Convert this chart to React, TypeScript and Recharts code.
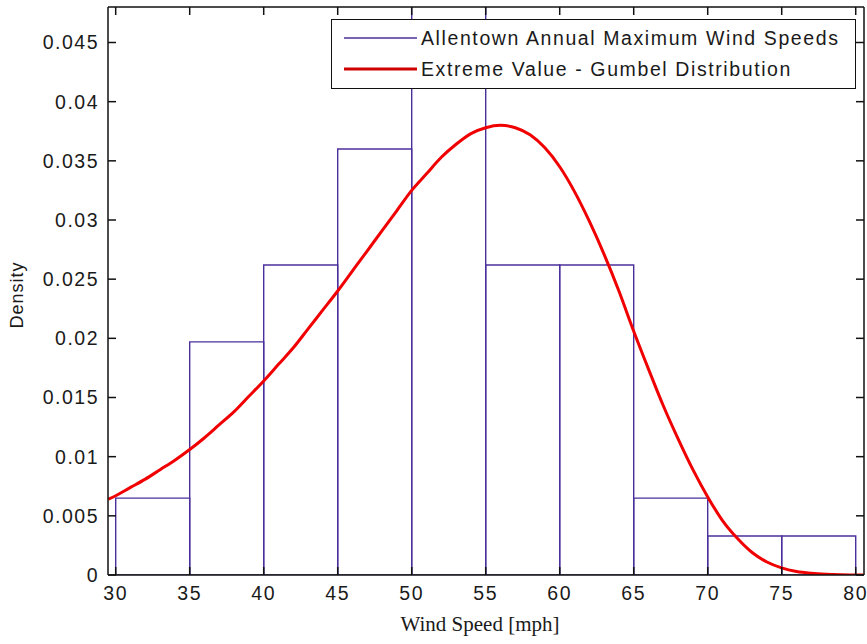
import React from 'react';
import { LineChart, Line, XAxis, YAxis, ReferenceArea, Legend } from 'recharts';

// Histogram bins (Allentown annual maximum wind speeds, density)
const binStarts = [30, 35, 40, 45, 50, 55, 60, 65, 70, 75];
const binEnds = [35, 40, 45, 50, 55, 60, 65, 70, 75, 80];
const binDensity = [0.0065, 0.0197, 0.0262, 0.0360, 0.0492, 0.0262, 0.0262, 0.0065, 0.0033, 0.0033];

// Gumbel (extreme value) fitted density
const curveX = [29.5, 30, 31, 32, 33, 34, 35, 36, 37, 38, 39, 40, 41, 42, 43, 44, 45, 46, 47, 48, 49, 50,
  51, 52, 53, 54, 55, 56, 57, 58, 59, 60, 61, 62, 63, 64, 65, 66, 67, 68, 69, 70,
  71, 72, 73, 74, 75, 76, 77, 78, 79, 80, 80.5];
const curveDensity = [0.0064, 0.0067, 0.0074, 0.0081, 0.0089, 0.0097, 0.0106, 0.0116, 0.0127, 0.0138, 0.0151, 0.0164,
  0.0178, 0.0192, 0.0208, 0.0224, 0.0240, 0.0257, 0.0274, 0.0291, 0.0308, 0.0325,
  0.0339, 0.0353, 0.0364, 0.0373, 0.0378, 0.0380, 0.0378, 0.0372, 0.0361, 0.0345,
  0.0324, 0.0299, 0.0271, 0.0240, 0.0206, 0.0174, 0.0143, 0.0115, 0.0089, 0.0066,
  0.0046, 0.0031, 0.0019, 0.0011, 0.0006, 0.0003, 0.00015, 0.00007, 0.00003, 0.00001, 0.00001];

const xTicks = [30, 35, 40, 45, 50, 55, 60, 65, 70, 75, 80];
const yTicks = [0, 0.005, 0.01, 0.015, 0.02, 0.025, 0.03, 0.035, 0.04, 0.045];
const yTickLabels = ['0', '0.005', '0.01', '0.015', '0.02', '0.025', '0.03', '0.035', '0.04', '0.045'];
const xDomain = [29.48, 80.56];
const yDomain = [0, 0.048];

const seriesNames = ['Allentown Annual Maximum Wind Speeds', 'Extreme Value - Gumbel Distribution'];
const xLabel = 'Wind Speed [mph]';
const yLabel = 'Density';

const data = curveX.map((x, i) => ({ x, density: curveDensity[i] }));

const SANS = '"Liberation Sans", Arial, Helvetica, sans-serif';
const SERIF = '"Liberation Serif", "Times New Roman", serif';
const HIST_COLOR = '#4b2f9c';
const CURVE_COLOR = '#f00000';
const TEXT_COLOR = '#1a1a1a';
const AXIS = { stroke: '#111', strokeWidth: 1.5 };

const tickStyle = { fontSize: 19.5, fill: TEXT_COLOR, fontFamily: SANS, letterSpacing: 1.5 };
const EmptyTick = () => <g />;

const LegendBox = () => (
  <div
    style={{
      width: 525,
      height: 70,
      border: '1.5px solid #111',
      background: '#fff',
      boxSizing: 'border-box',
      position: 'relative',
      fontFamily: SANS,
      fontSize: 19.5,
      letterSpacing: 1.6,
      color: TEXT_COLOR,
    }}
  >
    {seriesNames.map((name, i) => (
      <div key={name} style={{ position: 'absolute', left: 0, top: i === 0 ? 6 : 37, height: 24, width: 523 }}>
        <svg width={90} height={24} style={{ position: 'absolute', left: 0, top: 0 }}>
          <line
            x1={12}
            x2={85}
            y1={12}
            y2={12}
            stroke={i === 0 ? HIST_COLOR : '#d00000'}
            strokeWidth={i === 0 ? 1.4 : 3}
          />
        </svg>
        <span style={{ position: 'absolute', left: 89, top: 0, lineHeight: '24px', whiteSpace: 'nowrap' }}>{name}</span>
      </div>
    ))}
  </div>
);

const renderXLabel = (props: any) => {
  const vb = props.viewBox || {};
  const cx = (vb.x ?? 108) + (vb.width ?? 756) / 2 - 6;
  return (
    <text x={cx} y={631} textAnchor="middle" fontFamily={SERIF} fontSize={21} fill={TEXT_COLOR}>
      {xLabel}
    </text>
  );
};

const renderYLabel = (props: any) => {
  const vb = props.viewBox || {};
  const cy = (vb.y ?? 7) + (vb.height ?? 568) / 2 + 4;
  const cx = 17;
  return (
    <text
      x={cx}
      y={cy}
      transform={`rotate(-90, ${cx}, ${cy})`}
      textAnchor="middle"
      dominantBaseline="central"
      fontFamily={SANS}
      fontSize={18}
      letterSpacing={1}
      fill={TEXT_COLOR}
    >
      {yLabel}
    </text>
  );
};

export default function App() {
  return (
    <div style={{ position: 'absolute', left: 0, top: 0, width: 867, height: 644, background: '#fff' }}>
      <LineChart width={867} height={644} data={data} margin={{ top: 6, right: 2, bottom: 0, left: 0 }}>
        <XAxis
          dataKey="x"
          type="number"
          domain={xDomain}
          ticks={xTicks}
          interval={0}
          allowDataOverflow
          height={69}
          tickSize={-8}
          tickMargin={19}
          tick={tickStyle}
          axisLine={AXIS}
          tickLine={AXIS}
          label={{ content: renderXLabel }}
        />
        <XAxis
          xAxisId="top"
          orientation="top"
          type="number"
          dataKey="x"
          domain={xDomain}
          ticks={xTicks}
          interval={0}
          allowDataOverflow
          height={1}
          tickSize={-8}
          tick={EmptyTick}
          axisLine={AXIS}
          tickLine={AXIS}
        />
        <YAxis
          type="number"
          domain={yDomain}
          ticks={yTicks}
          interval={0}
          allowDataOverflow
          width={108}
          tickSize={-8}
          tickMargin={17}
          tick={tickStyle}
          tickFormatter={(v: number) => yTickLabels[yTicks.indexOf(v)] ?? String(v)}
          axisLine={AXIS}
          tickLine={AXIS}
          label={{ content: renderYLabel }}
        />
        <YAxis
          yAxisId="right"
          orientation="right"
          type="number"
          domain={yDomain}
          ticks={yTicks}
          interval={0}
          allowDataOverflow
          width={1}
          tickSize={-8}
          tick={EmptyTick}
          axisLine={AXIS}
          tickLine={AXIS}
        />
        {binStarts.map((s, i) => (
          <ReferenceArea
            key={s}
            x1={s}
            x2={binEnds[i]}
            y1={0}
            y2={binDensity[i]}
            ifOverflow="hidden"
            fill="none"
            fillOpacity={0}
            stroke={HIST_COLOR}
            strokeWidth={1.4}
            strokeOpacity={1}
          />
        ))}
        <Line
          dataKey="density"
          type="monotone"
          stroke={CURVE_COLOR}
          strokeWidth={3}
          dot={false}
          activeDot={false}
          isAnimationActive={false}
        />
        <Legend
          content={LegendBox}
          layout="horizontal"
          verticalAlign="middle"
          align="center"
          wrapperStyle={{ position: 'absolute', left: 331, top: 19, width: 525, height: 70 }}
        />
      </LineChart>
    </div>
  );
}
